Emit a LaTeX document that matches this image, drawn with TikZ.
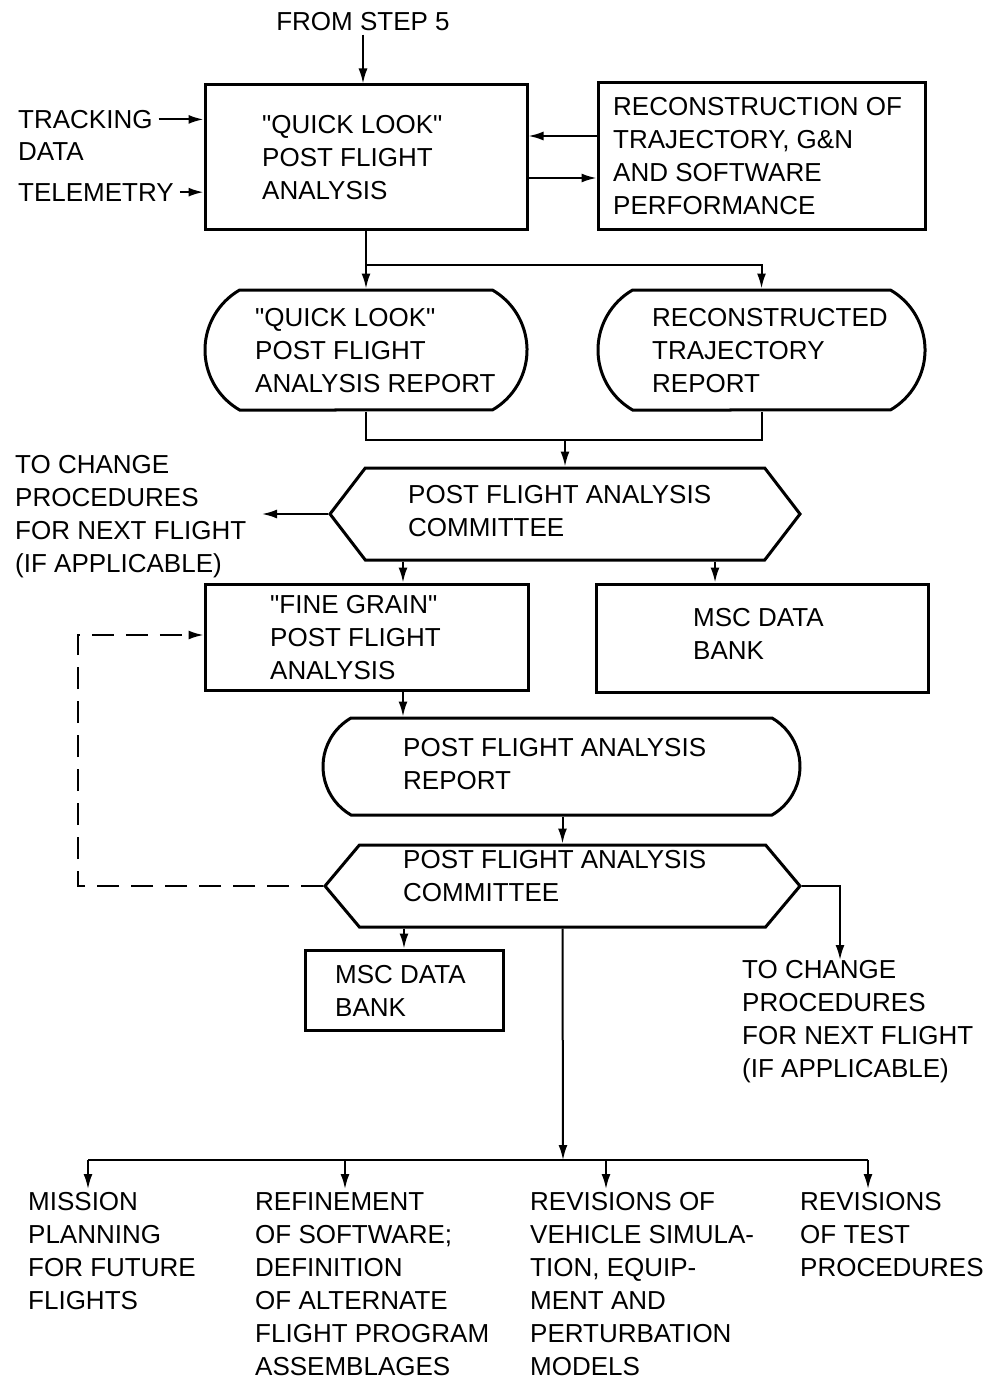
\documentclass[tikz,border=0pt]{standalone}
\usepackage{fontspec}
\setmainfont{Liberation Sans}[Ligatures=TeXOff]
\usetikzlibrary{shapes.misc,shapes.symbols,arrows.meta}

\begin{document}
\begin{tikzpicture}[x=1pt,y=-1pt,
  every node/.style={font=\fontsize{26}{33}\selectfont},
  conn/.style={line width=2pt,-{Latex[length=15pt,width=9pt]}},
  plain/.style={line width=2pt},
  box/.style={draw,line width=3pt,rectangle,inner sep=0pt},
  report/.style={draw,line width=3pt,rounded rectangle,rounded rectangle arc length=120,inner sep=0pt},
  committee/.style={draw,line width=3pt,signal,signal to=west and east,inner sep=0pt},
  txt/.style={anchor=north west,align=left,inner sep=0pt}
]
\useasboundingbox (0,0) rectangle (986,1380);

% ---- top row ----
\node (from) at (363,22) {FROM STEP 5};
\node[box,minimum width=322,minimum height=145] (ql) at (366,157.5) {};
\node[txt] (qlT) at (262,115) {"QUICK LOOK"\\POST FLIGHT\\ANALYSIS};
\node[box,minimum width=327,minimum height=147] (recon) at (761.5,156.5) {};
\node[txt] (reconT) at (613,97) {RECONSTRUCTION OF\\TRAJECTORY, G\&N\\AND SOFTWARE\\PERFORMANCE};
\node[txt] (track) at (18,110) {TRACKING};
\node[txt] (data) at (18,142) {DATA};
\node[txt] (tele) at (18,183) {TELEMETRY};

\draw[conn] (from.south) -- (from.south |- ql.north);
\draw[conn] (track.east) ++(6,0) -- (ql.west |- track.east);
\draw[conn] (tele.east) ++(6,0) -- (ql.west |- tele.east);
\draw[conn] (recon.west |- 0,136) -- (ql.east |- 0,136);
\draw[conn] (ql.east |- 0,178) -- (recon.west |- 0,178);

% ---- quick look reports ----
\node[report,minimum width=322,minimum height=120] (qlrep) at (366,350) {};
\node[txt] (qlrepT) at (255,308) {"QUICK LOOK"\\POST FLIGHT\\ANALYSIS REPORT};
\node[report,minimum width=327,minimum height=120] (trrep) at (761.5,350) {};
\node[txt] (trrepT) at (652,308) {RECONSTRUCTED\\TRAJECTORY\\REPORT};

\draw[conn] (ql.south) -- (qlrep.north);
\draw[conn] (ql.south |- 0,265) -| (trrep.north);

% ---- first committee ----
\node[committee,signal pointer angle=105,minimum width=470,minimum height=92] (hexA) at (565,514) {};
\node[txt] (hexAT) at (408,485) {POST FLIGHT ANALYSIS\\COMMITTEE};
\node[txt] (chgA) at (15,455) {TO CHANGE\\PROCEDURES\\FOR NEXT FLIGHT\\(IF APPLICABLE)};
\coordinate (chgAin) at (262,514);

\draw[plain] (qlrep.south) -- (qlrep.south |- 0,440) -- (trrep.south |- 0,440) -- (trrep.south);
\draw[conn] (hexA.north |- 0,440) -- (hexA.north);
\draw[conn] (hexA.west) -- (chgAin);

% ---- fine grain analysis and data bank ----
\node[box,minimum width=323,minimum height=106] (fine) at (366.5,637) {};
\node[txt] (fineT) at (270,595) {"FINE GRAIN"\\POST FLIGHT\\ANALYSIS};
\node[box,minimum width=332,minimum height=108] (bankA) at (762,638) {};
\node[txt] (bankAT) at (693,608) {MSC DATA\\BANK};

\draw[conn] (hexA.south -| 403,0) -- (fine.north -| 403,0);
\draw[conn] (hexA.south -| 715,0) -- (bankA.north -| 715,0);

% ---- post flight analysis report ----
\node[report,minimum width=477,minimum height=97] (pfar) at (561.5,766.5) {};
\node[txt] (pfarT) at (403,738) {POST FLIGHT ANALYSIS\\REPORT};
\draw[conn] (fine.south -| 403,0) -- (pfar.north -| 403,0);

% ---- second committee ----
\node[committee,signal pointer angle=100,minimum width=475,minimum height=82] (hexB) at (562.5,886) {};
\node[txt] (hexBT) at (403,850) {POST FLIGHT ANALYSIS\\COMMITTEE};
\draw[conn] (pfar.south -| hexB.north) -- (hexB.north);

\draw[conn,dash pattern=on 22pt off 12pt] (hexB.west) -| (78,635) -- (fine.west |- 0,635);

\node[box,minimum width=198,minimum height=80] (bankB) at (404,990) {};
\node[txt] (bankBT) at (335,965) {MSC DATA\\BANK};
\draw[conn] (hexB.south -| bankB.north) -- (bankB.north);

\node[txt] (chgB) at (742,960) {TO CHANGE\\PROCEDURES\\FOR NEXT FLIGHT\\(IF APPLICABLE)};
\draw[conn] (hexB.east) -| (chgB.north -| 840,0);

% ---- distribution of results ----
\node[txt] (out1) at (28,1192) {MISSION\\PLANNING\\FOR FUTURE\\FLIGHTS};
\node[txt] (out2) at (255,1192) {REFINEMENT\\OF SOFTWARE;\\DEFINITION\\OF ALTERNATE\\FLIGHT PROGRAM\\ASSEMBLAGES};
\node[txt] (out3) at (530,1192) {REVISIONS OF\\VEHICLE SIMULA-\\TION, EQUIP-\\MENT AND\\PERTURBATION\\MODELS};
\node[txt] (out4) at (800,1192) {REVISIONS\\OF TEST\\PROCEDURES};

\coordinate (bus) at (563,1160);
\draw[conn] (hexB.south) -- (bus);
\draw[plain] (88,1160) -- (868,1160);
\draw[conn,shorten >=3pt] (88,1160) -- (out1.north -| 88,0);
\draw[conn,shorten >=3pt] (345,1160) -- (out2.north -| 345,0);
\draw[conn,shorten >=3pt] (606,1160) -- (out3.north -| 606,0);
\draw[conn,shorten >=3pt] (868,1160) -- (out4.north -| 868,0);
\end{tikzpicture}
\end{document}
